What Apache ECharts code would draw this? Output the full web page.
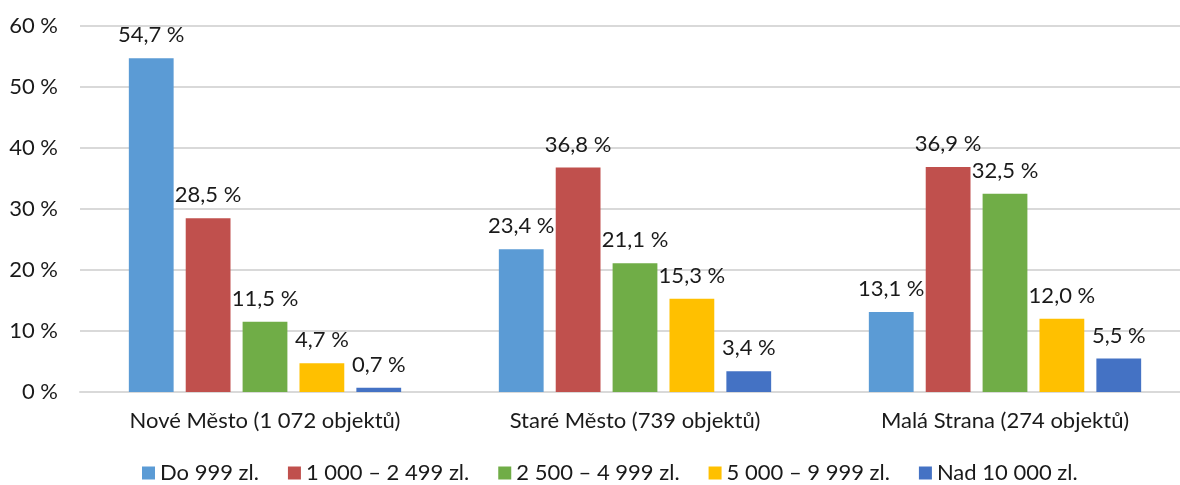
<!DOCTYPE html>
<html>
<head>
<meta charset="utf-8">
<script src="https://cdn.jsdelivr.net/npm/echarts@6/dist/echarts.min.js"></script>
<style>
html,body{margin:0;padding:0;background:#fff;overflow:hidden;width:1180px;height:485px;}
#chart{width:1190px;height:485px;}
</style>
</head>
<body>
<div id="chart"></div>
<script>
var categories = ['Nové Město (1 072 objektů)', 'Staré Město (739 objektů)', 'Malá Strana (274 objektů)'];
var seriesNames = ['Do 999 zl.', '1 000 – 2 499 zl.', '2 500 – 4 999 zl.', '5 000 – 9 999 zl.', 'Nad 10 000 zl.'];
var do999 = [54.7, 23.4, 13.1];
var s1000 = [28.5, 36.8, 36.9];
var s2500 = [11.5, 21.1, 32.5];
var s5000 = [4.7, 15.3, 12.0];
var nad10000 = [0.7, 3.4, 5.5];
var yTicks = [0, 10, 20, 30, 40, 50, 60];
var colors = ['#5B9BD5', '#C0504D', '#70AD47', '#FFC000', '#4472C4'];

var FONT = 'Lato';
var FS = 22;
var TXT = '#1a1a1a';
var allData = [do999, s1000, s2500, s5000, nad10000];

function fmt(v) { return v.toFixed(1).replace('.', ',') + ' %'; }

var series = seriesNames.map(function (name, i) {
  return {
    name: name,
    type: 'bar',
    data: allData[i],
    barGap: '27%',
    barCategoryGap: '26.4%',
    itemStyle: { color: colors[i] },
    label: {
      show: true,
      position: 'top',
      distance: 12,
      fontFamily: FONT,
      fontSize: FS,
      color: TXT,
      formatter: function (p) { return fmt(p.value); }
    }
  };
});

var chart = echarts.init(document.getElementById('chart'));
chart.setOption({
  animation: false,
  color: colors,
  textStyle: { fontFamily: FONT },
  grid: { left: 80, right: 0, top: 26, height: 366, containLabel: false },
  legend: {
    data: seriesNames,
    top: 462,
    left: 142,
    padding: 0,
    itemWidth: 13,
    itemHeight: 13,
    itemGap: 29,
    icon: 'rect',
    textStyle: { fontFamily: FONT, fontSize: FS, color: TXT }
  },
  xAxis: {
    type: 'category',
    data: categories,
    axisLine: { show: true, lineStyle: { color: '#d9d9d9', width: 2 } },
    axisTick: { show: false },
    axisLabel: { margin: 18, fontFamily: FONT, fontSize: FS, color: TXT }
  },
  yAxis: {
    type: 'value',
    min: yTicks[0],
    max: yTicks[yTicks.length - 1],
    interval: 10,
    axisLine: { show: false },
    axisTick: { show: false },
    splitLine: { lineStyle: { color: '#d9d9d9', width: 2 } },
    axisLabel: { margin: 22, fontFamily: FONT, fontSize: FS, color: TXT, formatter: function (v) { return v + ' %'; } }
  },
  series: series
});
</script>
</body>
</html>
